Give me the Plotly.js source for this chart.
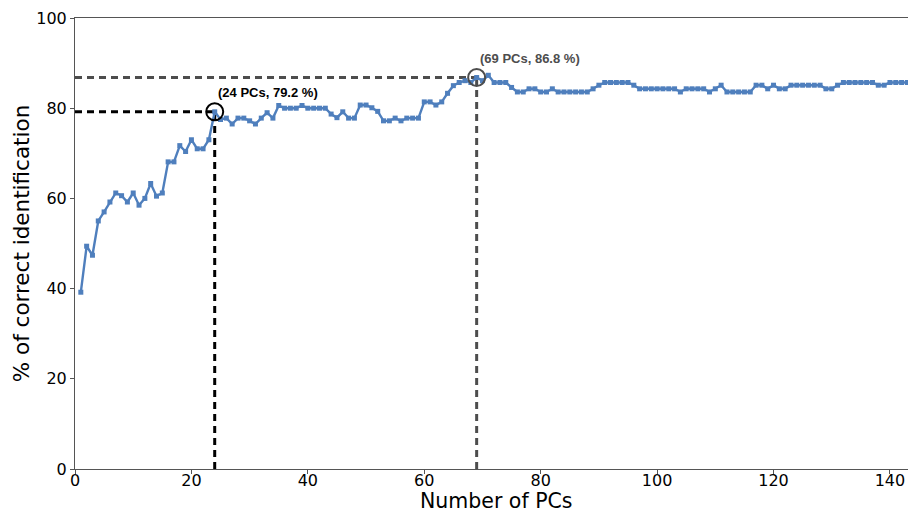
<!DOCTYPE html>
<html>
<head>
<meta charset="utf-8">
<script src="https://cdn.plot.ly/plotly-3.0.1.min.js"></script>
<style>html,body{margin:0;padding:0;background:#fff;}#chart{width:908px;height:514px;}</style>
</head>
<body>
<div id="chart"></div>
<script>
// Number of PCs 1..143 and % correct identification
const pcs = [];
for (let i = 1; i <= 143; i++) pcs.push(i);
const accuracy = [
  39.2, 49.4, 47.4, 55.0, 57.0, 59.2, 61.2, 60.6, 59.2, 61.2,
  58.5, 60.0, 63.3, 60.5, 61.2, 68.1, 68.1, 71.7, 70.4, 73.0,
  71.0, 71.0, 73.0, 79.2, 77.5, 77.8, 76.5, 77.8, 77.8, 77.2,
  76.5, 77.8, 79.0, 77.8, 80.6, 80.0, 80.0, 80.0, 80.6, 80.0,
  80.0, 80.0, 80.0, 78.7, 77.9, 79.2, 77.8, 77.8, 80.7, 80.7,
  80.1, 79.3, 77.2, 77.2, 77.8, 77.2, 77.8, 77.8, 77.8, 81.4,
  81.4, 80.7, 81.4, 83.3, 85.0, 85.7, 86.1, 85.7, 86.8, 86.1,
  87.3, 85.7, 85.7, 85.7, 84.6, 83.6, 83.6, 84.3, 84.3, 83.6,
  83.6, 84.3, 83.6, 83.6, 83.6, 83.6, 83.6, 83.6, 84.3, 85.1,
  85.7, 85.7, 85.7, 85.7, 85.7, 85.1, 84.3, 84.3, 84.3, 84.3,
  84.3, 84.3, 84.3, 83.6, 84.3, 84.3, 84.3, 84.3, 83.6, 84.3,
  85.1, 83.6, 83.6, 83.6, 83.6, 83.6, 85.1, 85.1, 84.3, 85.1,
  84.3, 84.3, 85.1, 85.1, 85.1, 85.1, 85.1, 85.1, 84.3, 84.3,
  85.1, 85.7, 85.7, 85.7, 85.7, 85.7, 85.7, 85.1, 85.1, 85.7,
  85.7, 85.7, 85.7
];
// Highlighted points
const highlightPCs = [24, 69];
const highlightValues = [79.2, 86.8];
const highlightLabels = ["(24 PCs, 79.2 %)", "(69 PCs, 86.8 %)"];
const highlightColors = ["#000000", "#4d4d4d"];

const xTicks = [0, 20, 40, 60, 80, 100, 120, 140];
const yTicks = [0, 20, 40, 60, 80, 100];
const xTitle = 'Number of PCs';
const yTitle = '% of correct identification';

const traces = [];
highlightPCs.forEach((pc, i) => {
  const v = highlightValues[i];
  traces.push({
    x: [0, pc], y: [v, v], mode: 'lines', hoverinfo: 'skip', showlegend: false,
    line: {color: highlightColors[i], width: 3, dash: '7px,5px'}
  });
  traces.push({
    x: [pc, pc], y: [0, v], mode: 'lines', hoverinfo: 'skip', showlegend: false,
    line: {color: highlightColors[i], width: 3, dash: '7px,5px'}
  });
});
traces.push({
  x: pcs, y: accuracy, mode: 'lines+markers', showlegend: false,
  line: {color: '#4f7fbd', width: 2.4},
  marker: {symbol: 'square', size: 5, color: '#4f7fbd'}
});
traces.push({
  x: highlightPCs, y: highlightValues, mode: 'markers', showlegend: false,
  marker: {symbol: 'circle-open', size: 17, color: highlightColors, line: {width: 2, color: highlightColors}}
});

const titleFont = {family: 'DejaVu Sans, sans-serif', size: 20.5, color: '#000'};
const annotations = highlightPCs.map((pc, i) => ({
  x: pc, y: highlightValues[i], xref: 'x', yref: 'y',
  text: '<b>' + highlightLabels[i] + '</b>', showarrow: false,
  xanchor: 'left', yanchor: 'middle', xshift: 1, yshift: 19,
  font: {family: 'Liberation Sans, Arial, sans-serif', size: 13, color: highlightColors[i]}
}));
annotations.push({
  x: 0.5, y: 0, xref: 'paper', yref: 'paper', text: xTitle, showarrow: false,
  xanchor: 'center', yanchor: 'bottom', xshift: 5, yshift: -45, borderpad: 0, font: titleFont
});

const axisFont = {family: 'DejaVu Sans, sans-serif', size: 16, color: '#000'};
const layout = {
  width: 908, height: 514,
  margin: {l: 75, r: 0, t: 18, b: 45, pad: 0},
  paper_bgcolor: '#fff', plot_bgcolor: '#fff',
  font: {family: 'DejaVu Sans, sans-serif'},
  xaxis: {
    range: [0, 143.1], tickvals: xTicks, ticktext: xTicks.map(String),
    showgrid: false, zeroline: false, showline: true, linecolor: '#555', linewidth: 1,
    mirror: true, ticks: 'outside', ticklen: 4, tickcolor: '#555', tickwidth: 1,
    ticklabelstandoff: -7,
    tickfont: axisFont
  },
  yaxis: {
    range: [0, 100], tickvals: yTicks, ticktext: yTicks.map(String),
    showgrid: false, zeroline: false, showline: true, linecolor: '#555', linewidth: 1,
    ticks: 'outside', ticklen: 4, tickcolor: '#555', tickwidth: 1,
    tickfont: axisFont,
    title: {text: yTitle, font: {family: 'DejaVu Sans, sans-serif', size: 21.5, color: '#000'}, standoff: 0}
  },
  annotations: annotations
};
Plotly.newPlot('chart', traces, layout, {staticPlot: true, displayModeBar: false});
</script>
</body>
</html>
